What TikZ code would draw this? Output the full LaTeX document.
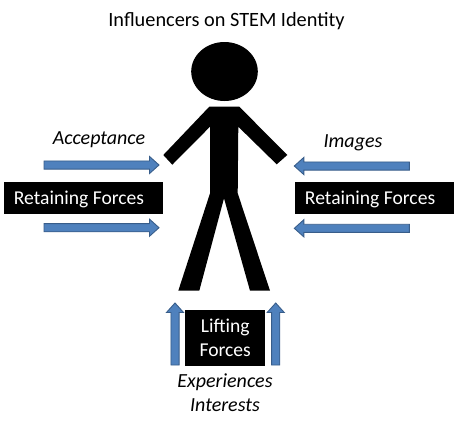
\documentclass[tikz,border=0pt]{standalone}
\usepackage{fontspec}
\setmainfont{Carlito}
\usetikzlibrary{shapes.arrows}
\definecolor{arrowfill}{HTML}{4F81BD}
\definecolor{arrowline}{HTML}{385D8A}
\tikzset{
  blockarrow/.style={single arrow, draw=arrowline, fill=arrowfill, line width=0.9pt,
    inner sep=3.6pt, outer sep=0pt, minimum width=16.5pt, single arrow head extend=4.5pt,
    single arrow head indent=0pt, single arrow tip angle=84, anchor=tail},
  forcebox/.style={fill=black, text=white, align=center, inner sep=0pt, font=\fontsize{19.6}{24.5}\selectfont},
  caption/.style={text=black, align=center, inner sep=0pt, font=\fontsize{20}{23}\selectfont\itshape},
  figure/.style={fill=black, draw=none}
}
\begin{document}
\begin{tikzpicture}[x=1pt,y=-1pt]
\useasboundingbox[fill=white] (0,0) rectangle (454,429);
\node[text=black, inner sep=0pt, font=\fontsize{20.3}{24}\selectfont] (title) at (226.5,21.5) {Influencers on STEM Identity};
% figure
\fill[figure] (224.5,71.5) ellipse [x radius=33.3, y radius=29.5];
\fill[figure] (209.3,106.7) -- (239.3,106.7) -- (287.3,155) -- (276.7,164.3) -- (238.3,126.7)
  -- (237.7,193.3) -- (270,290.7) -- (250,290.7) -- (224,198.3) -- (199.3,290.7) -- (178.3,290.7)
  -- (210,193.3) -- (210,126.7) -- (172.3,164.7) -- (163.3,155) -- cycle;
% boxes
\node[forcebox, minimum width=158.4pt, minimum height=32pt] (boxL) at (83.5,198.3) {\hspace*{-9pt}\raisebox{-1.5pt}[\height][\depth]{Retaining Forces}};
\node[forcebox, minimum width=158.7pt, minimum height=32pt] (boxR) at (374.6,198.3) {\hspace*{-9pt}\raisebox{-1.5pt}[\height][\depth]{Retaining Forces}};
\node[forcebox, minimum width=79.7pt, minimum height=55.7pt] (boxU) at (225.2,337.7) {Lifting\\Forces};
% arrows
\node[blockarrow, minimum height=115pt] (a1) at (44,165) {};
\node[blockarrow, minimum height=115pt] (a2) at (44,227.7) {};
\node[blockarrow, minimum height=115pt, shape border rotate=180] (a3) at (409.3,166) {};
\node[blockarrow, minimum height=115pt, shape border rotate=180] (a4) at (409.3,228.3) {};
\node[blockarrow, minimum height=62pt, shape border rotate=90] (a5) at (175,365) {};
\node[blockarrow, minimum height=62pt, shape border rotate=90] (a6) at (275.7,365) {};
% captions
\node[caption] (acc) at (99,140) {Acceptance};
\node[caption] (img) at (353,143) {Images};
\node[caption] (exp) at (225,382.5) {Experiences};
\node[caption] (int) at (225,405.5) {Interests};
\end{tikzpicture}
\end{document}
